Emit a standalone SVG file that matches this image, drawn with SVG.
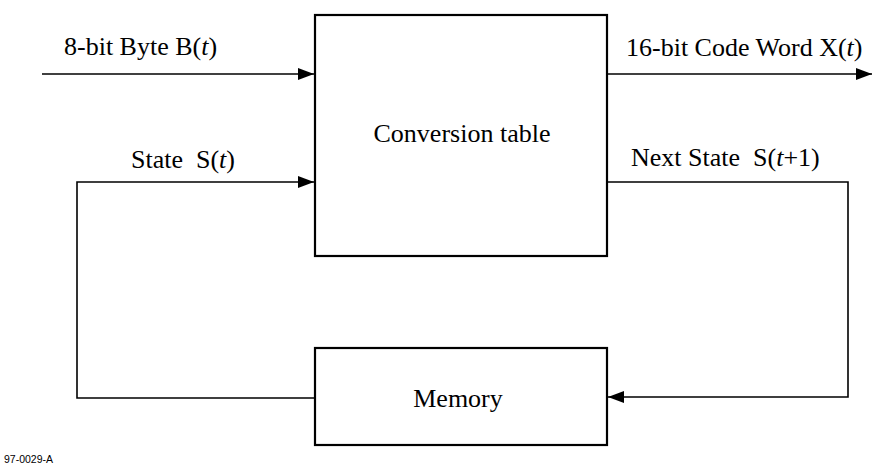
<svg xmlns="http://www.w3.org/2000/svg" width="872" height="465" viewBox="0 0 872 465">
<style>
.box{fill:#fff;stroke:#000;stroke-width:2.2}
.ln{fill:none;stroke:#000;stroke-width:1.6}
.t{font-family:"Liberation Serif","Times New Roman",serif;font-size:26px;fill:#000}
.i{font-style:italic}
.s{font-family:"Liberation Sans",Arial,sans-serif;font-size:10.5px;fill:#000}
</style>
<defs>
<marker id="ah" markerWidth="16" markerHeight="12" refX="16" refY="6" orient="auto" markerUnits="userSpaceOnUse">
<path d="M0,0 L16,6 L0,12 Z" fill="#000"/>
</marker>
</defs>
<g id="conversion">
<rect class="box" x="315" y="15" width="292" height="241"/>
<text class="t" x="462" y="142" text-anchor="middle">Conversion table</text>
</g>
<g id="memory">
<rect class="box" x="315" y="348" width="292" height="97"/>
<text class="t" x="458" y="407" text-anchor="middle">Memory</text>
</g>
<g id="connectors">
<path class="ln" d="M42,74 H314" marker-end="url(#ah)"/>
<path class="ln" d="M608,74 H872" marker-end="url(#ah)"/>
<path class="ln" d="M315,398 H77 V182 H314" marker-end="url(#ah)"/>
<path class="ln" d="M608,182 H848 V397 H608" marker-end="url(#ah)"/>
</g>
<g id="labels">
<text class="t" x="64" y="55">8-bit Byte B(<tspan class="i">t</tspan>)</text>
<text class="t" x="626" y="56">16-bit Code Word X(<tspan class="i">t</tspan>)</text>
<text class="t" x="131" y="168" xml:space="preserve">State  S(<tspan class="i">t</tspan>)</text>
<text class="t" x="631" y="166" xml:space="preserve">Next State  S(<tspan class="i">t</tspan>+1)</text>
<text class="s" x="4" y="463">97-0029-A</text>
</g>
</svg>
